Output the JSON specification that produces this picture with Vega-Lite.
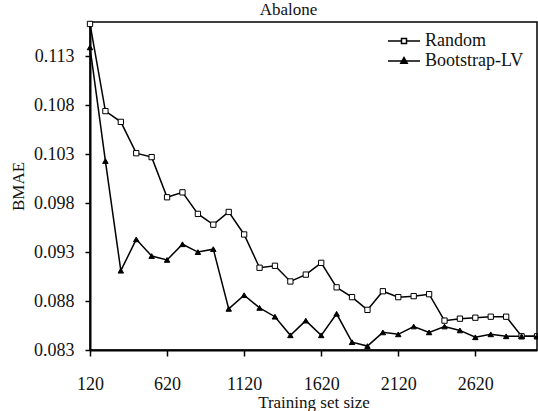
{
  "$schema": "https://vega.github.io/schema/vega-lite/v6.json",
  "width": 447,
  "height": 328,
  "autosize": {"type": "none"},
  "padding": {"left": 90, "top": 22, "right": 1, "bottom": 61},
  "background": "white",
  "config": {
    "font": "Liberation Serif",
    "view": {"stroke": "black", "strokeWidth": 1.5},
    "axis": {
      "grid": false,
      "domainColor": "black",
      "domainWidth": 2,
      "tickColor": "black",
      "tickWidth": 1.5,
      "labelColor": "#111",
      "titleColor": "#111",
      "labelFont": "Liberation Serif",
      "titleFont": "Liberation Serif",
      "labelFontSize": 18,
      "titleFontSize": 17,
      "titleFontWeight": "normal"
    }
  },
  "title": {
    "text": "Abalone",
    "font": "Liberation Serif",
    "fontSize": 17,
    "fontWeight": "normal",
    "color": "#111",
    "anchor": "middle",
    "frame": "group",
    "offset": 0,
    "dx": -25
  },
  "data": {
    "values": [
      {"size": 120, "series": "Random", "bmae": 0.1163},
      {"size": 220, "series": "Random", "bmae": 0.1074},
      {"size": 320, "series": "Random", "bmae": 0.1063},
      {"size": 420, "series": "Random", "bmae": 0.1031},
      {"size": 520, "series": "Random", "bmae": 0.1027},
      {"size": 620, "series": "Random", "bmae": 0.0986},
      {"size": 720, "series": "Random", "bmae": 0.0991},
      {"size": 820, "series": "Random", "bmae": 0.0969},
      {"size": 920, "series": "Random", "bmae": 0.0958},
      {"size": 1020, "series": "Random", "bmae": 0.0971},
      {"size": 1120, "series": "Random", "bmae": 0.0948},
      {"size": 1220, "series": "Random", "bmae": 0.0914},
      {"size": 1320, "series": "Random", "bmae": 0.0916},
      {"size": 1420, "series": "Random", "bmae": 0.0900},
      {"size": 1520, "series": "Random", "bmae": 0.0907},
      {"size": 1620, "series": "Random", "bmae": 0.0919},
      {"size": 1720, "series": "Random", "bmae": 0.0894},
      {"size": 1820, "series": "Random", "bmae": 0.0884},
      {"size": 1920, "series": "Random", "bmae": 0.0871},
      {"size": 2020, "series": "Random", "bmae": 0.0890},
      {"size": 2120, "series": "Random", "bmae": 0.0884},
      {"size": 2220, "series": "Random", "bmae": 0.0885},
      {"size": 2320, "series": "Random", "bmae": 0.0887},
      {"size": 2420, "series": "Random", "bmae": 0.0860},
      {"size": 2520, "series": "Random", "bmae": 0.0862},
      {"size": 2620, "series": "Random", "bmae": 0.0863},
      {"size": 2720, "series": "Random", "bmae": 0.0864},
      {"size": 2820, "series": "Random", "bmae": 0.0864},
      {"size": 2920, "series": "Random", "bmae": 0.0844},
      {"size": 3020, "series": "Random", "bmae": 0.0844},
      {"size": 120, "series": "Bootstrap-LV", "bmae": 0.1139},
      {"size": 220, "series": "Bootstrap-LV", "bmae": 0.1023},
      {"size": 320, "series": "Bootstrap-LV", "bmae": 0.0911},
      {"size": 420, "series": "Bootstrap-LV", "bmae": 0.0943},
      {"size": 520, "series": "Bootstrap-LV", "bmae": 0.0926},
      {"size": 620, "series": "Bootstrap-LV", "bmae": 0.0922},
      {"size": 720, "series": "Bootstrap-LV", "bmae": 0.0938},
      {"size": 820, "series": "Bootstrap-LV", "bmae": 0.0930},
      {"size": 920, "series": "Bootstrap-LV", "bmae": 0.0933},
      {"size": 1020, "series": "Bootstrap-LV", "bmae": 0.0872},
      {"size": 1120, "series": "Bootstrap-LV", "bmae": 0.0886},
      {"size": 1220, "series": "Bootstrap-LV", "bmae": 0.0873},
      {"size": 1320, "series": "Bootstrap-LV", "bmae": 0.0864},
      {"size": 1420, "series": "Bootstrap-LV", "bmae": 0.0845},
      {"size": 1520, "series": "Bootstrap-LV", "bmae": 0.0860},
      {"size": 1620, "series": "Bootstrap-LV", "bmae": 0.0845},
      {"size": 1720, "series": "Bootstrap-LV", "bmae": 0.0867},
      {"size": 1820, "series": "Bootstrap-LV", "bmae": 0.0838},
      {"size": 1920, "series": "Bootstrap-LV", "bmae": 0.0834},
      {"size": 2020, "series": "Bootstrap-LV", "bmae": 0.0848},
      {"size": 2120, "series": "Bootstrap-LV", "bmae": 0.0846},
      {"size": 2220, "series": "Bootstrap-LV", "bmae": 0.0854},
      {"size": 2320, "series": "Bootstrap-LV", "bmae": 0.0848},
      {"size": 2420, "series": "Bootstrap-LV", "bmae": 0.0854},
      {"size": 2520, "series": "Bootstrap-LV", "bmae": 0.0850},
      {"size": 2620, "series": "Bootstrap-LV", "bmae": 0.0843},
      {"size": 2720, "series": "Bootstrap-LV", "bmae": 0.0846},
      {"size": 2820, "series": "Bootstrap-LV", "bmae": 0.0844},
      {"size": 2920, "series": "Bootstrap-LV", "bmae": 0.0844},
      {"size": 3020, "series": "Bootstrap-LV", "bmae": 0.0844}
    ]
  },
  "encoding": {
    "x": {
      "field": "size",
      "type": "quantitative",
      "title": "Training set size",
      "scale": {"domain": [120, 3020], "nice": false, "zero": false},
      "axis": {
        "values": [120, 620, 1120, 1620, 2120, 2620],
        "format": "d",
        "tickSize": 6,
        "labelPadding": 19,
        "titlePadding": 1,
        "labelFlush": false
      }
    },
    "y": {
      "field": "bmae",
      "type": "quantitative",
      "title": "BMAE",
      "scale": {"domain": [0.083, 0.1165], "nice": false, "zero": false},
      "axis": {
        "values": [0.083, 0.088, 0.093, 0.098, 0.103, 0.108, 0.113],
        "format": ".3f",
        "tickSize": 5,
        "labelPadding": 11,
        "titlePadding": 6,
        "labelFlush": false
      }
    }
  },
  "layer": [
    {
      "mark": {"type": "line", "strokeWidth": 1.5},
      "encoding": {
        "color": {
          "field": "series",
          "type": "nominal",
          "sort": ["Random", "Bootstrap-LV"],
          "scale": {"domain": ["Random", "Bootstrap-LV"], "range": ["black", "black"]},
          "legend": {
            "title": null,
            "orient": "none",
            "legendX": 303,
            "legendY": 8,
            "padding": 0,
            "symbolSize": 400,
            "symbolStrokeWidth": 1.5,
            "labelFont": "Liberation Serif",
            "labelFontSize": 18,
            "labelColor": "#111",
            "labelOffset": 10,
            "rowPadding": 0,
            "encode": {
              "symbols": {
                "update": {
                  "shape": {"signal": "datum.value === 'Random' ? 'M-1.6,0L-0.25,0M0.25,0L1.6,0M-0.25,-0.25L0.25,-0.25L0.25,0.25L-0.25,0.25Z' : 'M-1.6,0L1.6,0M0,-0.35L0.32,0.22L-0.32,0.22Z'"},
                  "fill": {"signal": "datum.value === 'Random' ? 'white' : 'black'"},
                  "strokeWidth": {"value": 1.5}
                }
              }
            }
          }
        }
      }
    },
    {
      "transform": [{"filter": "datum.series === 'Random'"}],
      "mark": {"type": "point", "shape": "square", "stroke": "black", "fill": "white", "strokeWidth": 1, "filled": false, "opacity": 1, "size": 28}
    },
    {
      "transform": [{"filter": "datum.series === 'Bootstrap-LV'"}],
      "mark": {"type": "point", "shape": "triangle-up", "stroke": "black", "fill": "black", "strokeWidth": 1, "filled": true, "opacity": 1, "size": 30}
    }
  ]
}
